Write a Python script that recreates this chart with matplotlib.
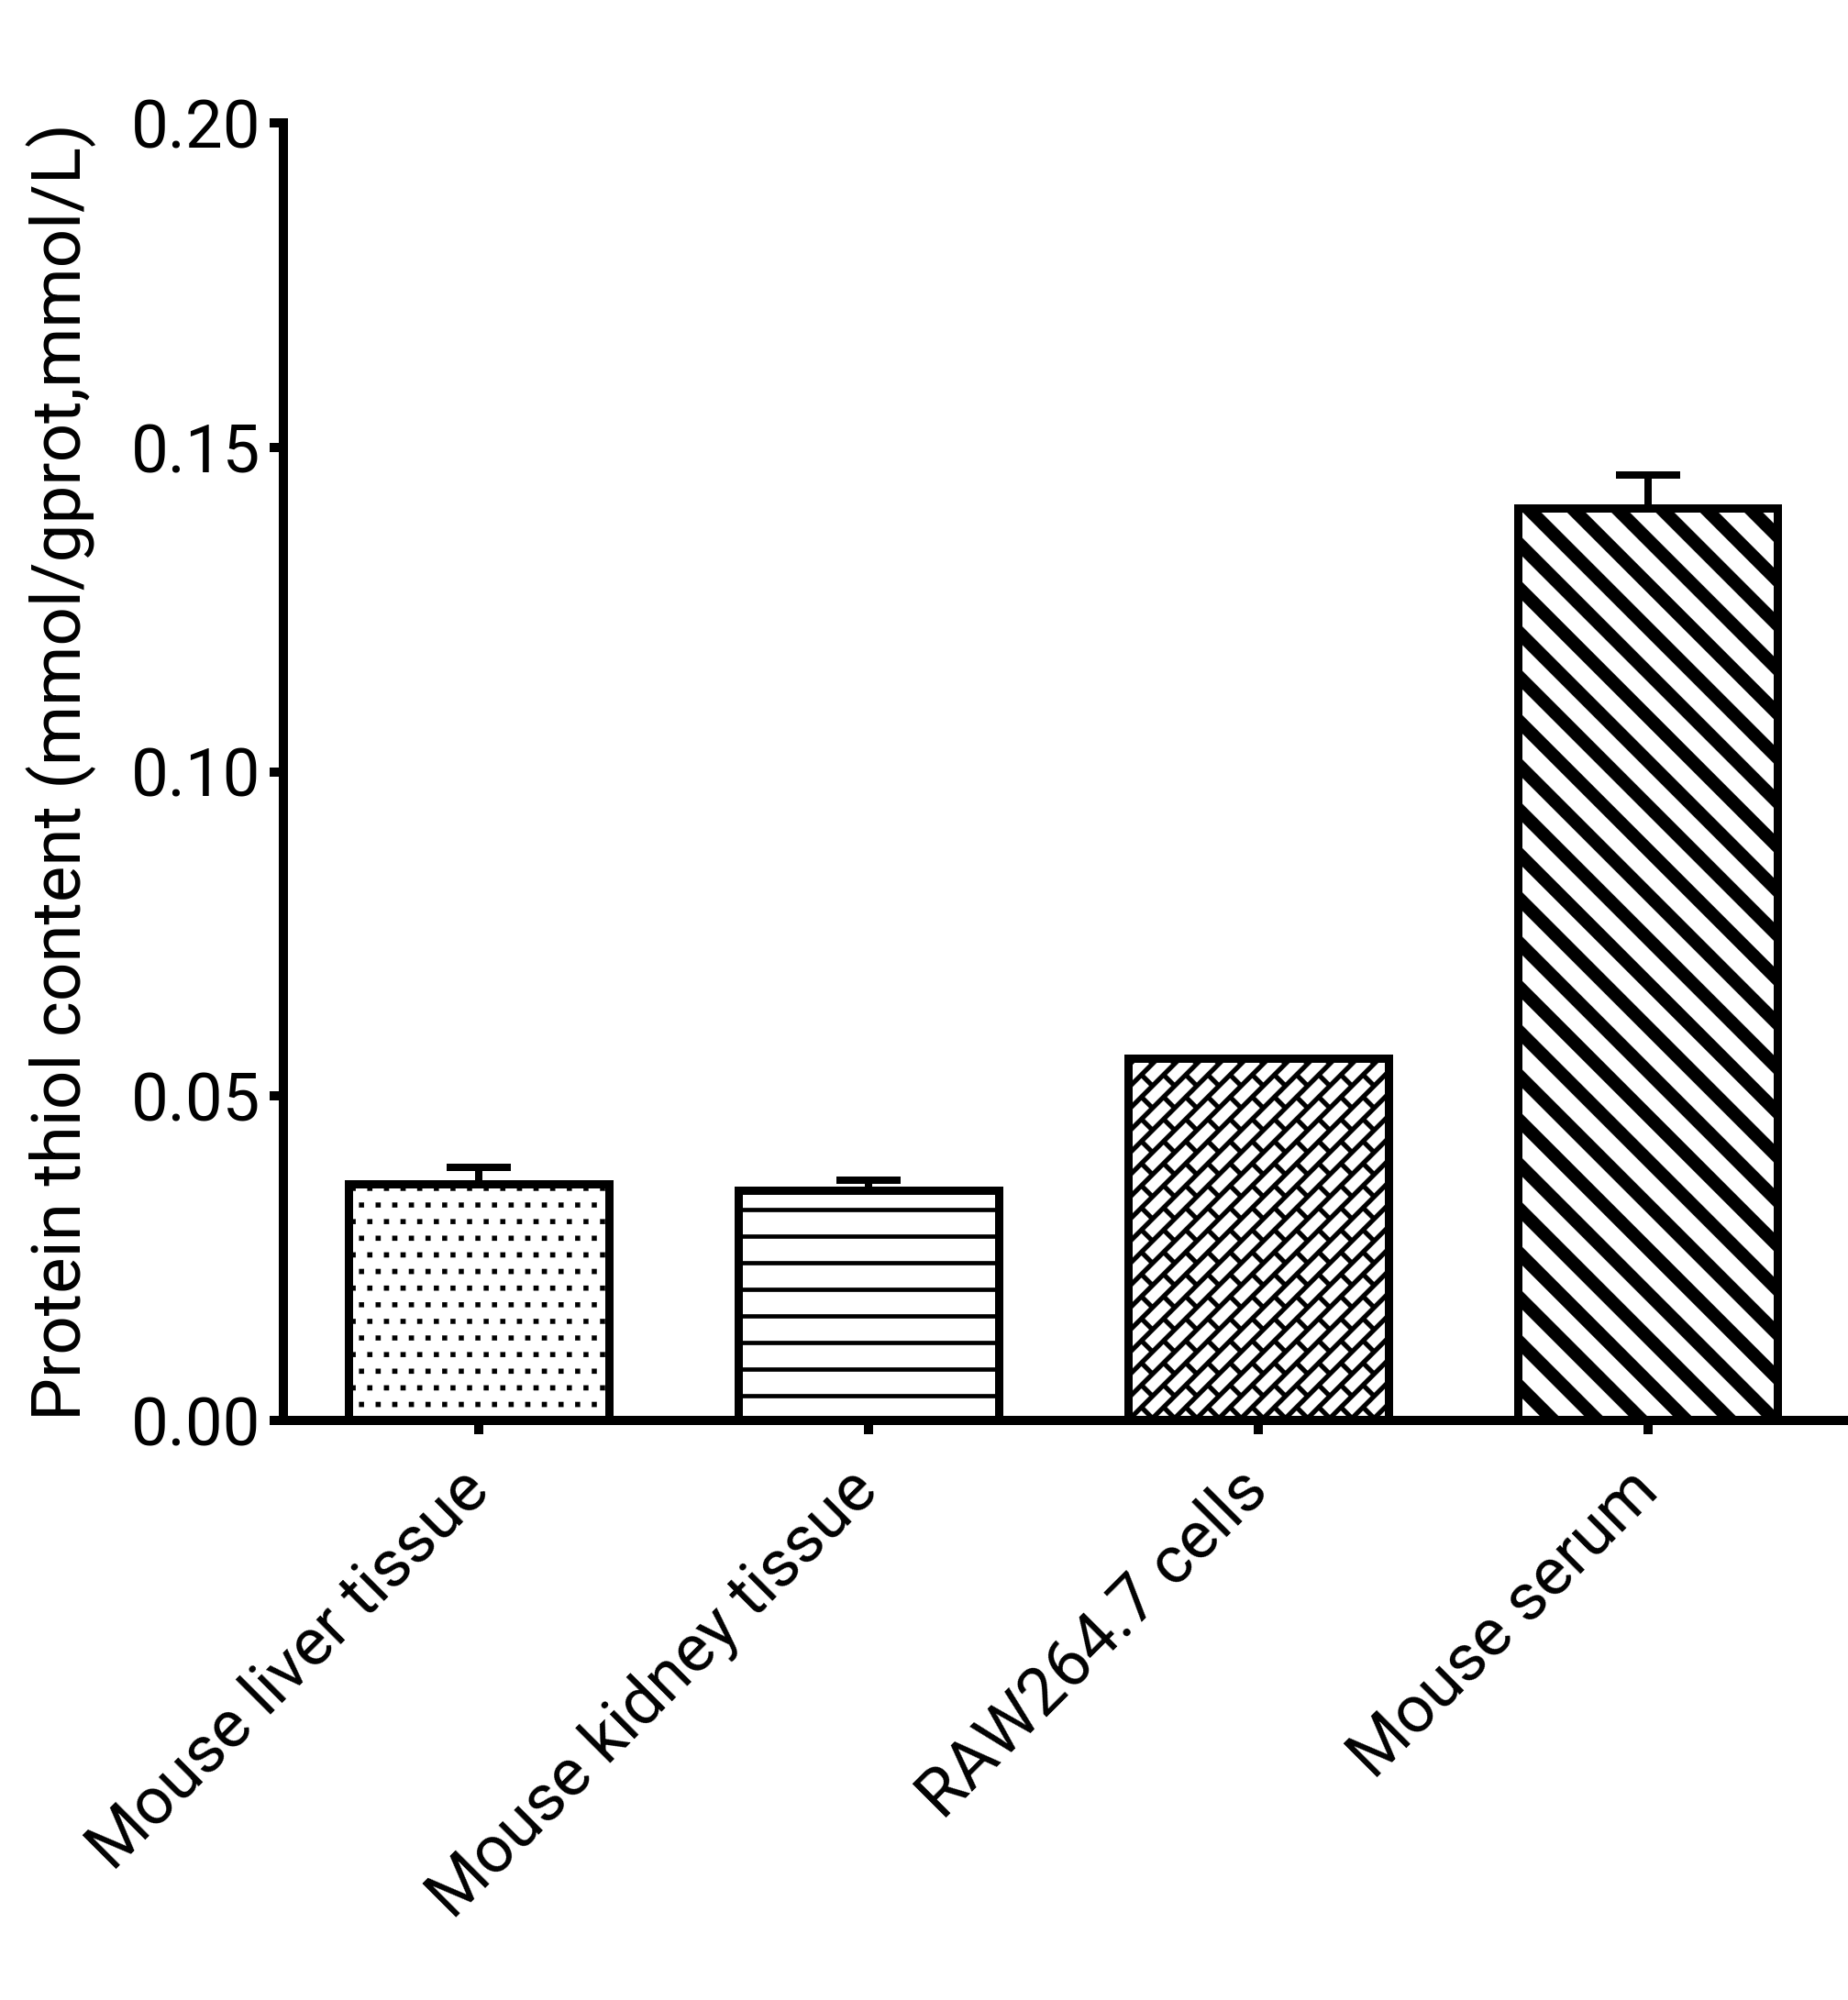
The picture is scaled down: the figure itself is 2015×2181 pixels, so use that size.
import warnings
import numpy as np
import matplotlib
matplotlib.use("Agg")
import matplotlib.pyplot as plt
import matplotlib.hatch as mhatch
from matplotlib.path import Path
from matplotlib.ticker import FormatStrFormatter

warnings.filterwarnings("ignore")

# ---------------- data ----------------
categories = ["Mouse liver tissue", "Mouse kidney tissue", "RAW264.7 cells", "Mouse serum"]
values = [0.0364, 0.0354, 0.0558, 0.1406]
errors = [0.0026, 0.0016, 0.0000, 0.0051]
yticks = [0.00, 0.05, 0.10, 0.15, 0.20]
ylabel = "Protein thiol content (mmol/gprot,mmol/L)"

# ---------------- styles ----------------
DPI = 145
PT = 72.0 / DPI  # points per pixel
hatches = ["a", "b", "c", "d"]

plt.rcParams["font.family"] = ["Roboto", "DejaVu Sans"]
plt.rcParams["hatch.linewidth"] = 0.1
plt.rcParams["hatch.color"] = "black"


# ---------------- custom hatch patterns (unit tile = 1 inch = DPI px) ----------------
def _ccw(pts):
    pts = np.asarray(pts, float)
    a = 0.5 * np.sum(pts[:, 0] * np.roll(pts[:, 1], -1) - np.roll(pts[:, 0], -1) * pts[:, 1])
    return pts if a >= 0 else pts[::-1]


def _sd(s, d):
    # (s = x+y, d = y-x) -> (x, y)
    return ((s - d) / 2.0, (s + d) / 2.0)


def _dots():
    polys = []
    n = 8
    h = 2.7 / DPI
    for j in range(-1, n + 1):
        y = (j + 0.5) / n
        for i in range(-1, n + 2):
            x = (i + 0.5 * (j % 2) + 0.25) / n
            polys.append(_ccw([(x - h, y - h), (x + h, y - h), (x + h, y + h), (x - h, y + h)]))
    return polys


def _hlines():
    polys = []
    n = 5
    t = 2.3 / DPI
    for j in range(-1, n + 1):
        y = (j + 0.5) / n
        polys.append(_ccw([(-0.2, y - t), (1.2, y - t), (1.2, y + t), (-0.2, y + t)]))
    return polys


def _stripes():
    polys = []
    h = 10.0 / DPI  # half horizontal width
    for k in range(-2, 9):
        c = k / 3.0
        polys.append(_ccw([(-1, c - h + 1), (2, c - h - 2), (2, c + h - 2), (-1, c + h + 1)]))
    return polys


def _bricks():
    polys = []
    k, m = 6, 3
    t = 2.5 / DPI
    e = t * np.sqrt(2)
    for j in range(-k - 2, k + 3):
        a = j / float(k)
        polys.append(_ccw([_sd(-1, a - e), _sd(3, a - e), _sd(3, a + e), _sd(-1, a + e)]))
        d0, d1 = a + e, a + 1.0 / k - e
        for i in range(-2, 2 * m + 3):
            p = (i + 0.5 * (j % 2)) / float(m)
            polys.append(_ccw([_sd(p - e, d0), _sd(p + e, d0), _sd(p + e, d1), _sd(p - e, d1)]))
    return polys


HATCH_POLYS = {"a": _dots(), "b": _hlines(), "c": _bricks(), "d": _stripes()}


class PolygonHatch(mhatch.HatchPatternBase):
    def __init__(self, hatch, density):
        self.polys = []
        for ch, polys in HATCH_POLYS.items():
            if ch in hatch:
                self.polys.extend(polys)
        self.num_vertices = sum(len(p) + 1 for p in self.polys)

    def set_vertices_and_codes(self, vertices, codes):
        cur = 0
        for p in self.polys:
            n = len(p)
            vertices[cur:cur + n] = p
            vertices[cur + n] = p[0]
            codes[cur] = Path.MOVETO
            codes[cur + 1:cur + n] = Path.LINETO
            codes[cur + n] = Path.CLOSEPOLY
            cur += n + 1


mhatch._hatch_types.append(PolygonHatch)

# ---------------- figure ----------------
W, H = 2015, 2181
fig = plt.figure(figsize=((W + 0.4) / DPI, (H + 0.4) / DPI), dpi=DPI, facecolor="white")
x0, x1 = 309, 2012
y0, y1 = 1549, 134.5
ax = fig.add_axes([x0 / W, 1 - y0 / H, (x1 - x0) / W, (y0 - y1) / H])

x = np.arange(len(categories))
bars = ax.bar(x, values, width=0.668, color="white", edgecolor="black",
              linewidth=9 * PT, zorder=2)
for patch, h in zip(bars, hatches):
    patch.set_hatch(h)

ax.errorbar(x, values, yerr=[np.zeros(len(values)), errors], fmt="none",
            ecolor="black", elinewidth=8 * PT, capsize=35 * PT, capthick=8 * PT,
            zorder=1.5)

ax.set_xlim(-0.5015, 3.508)
ax.set_ylim(0, 0.20)
ax.set_yticks(yticks)
ax.yaxis.set_major_formatter(FormatStrFormatter("%.2f"))

for s in ["top", "right"]:
    ax.spines[s].set_visible(False)
for s in ["left", "bottom"]:
    ax.spines[s].set_linewidth(10 * PT)
    ax.spines[s].set_capstyle("projecting")

fs = 36
ax.tick_params(axis="both", direction="out", length=15 * PT, width=10 * PT,
               labelsize=fs, color="black")
ax.tick_params(axis="y", pad=5)
ax.tick_params(axis="x", pad=25)
ax.set_xticks(x)
ax.set_xticklabels(categories, rotation=45, ha="right", va="center",
                   rotation_mode="anchor")

ax.set_ylabel(ylabel, fontsize=37, va="center")
ax.yaxis.set_label_coords((67 - x0) / (x1 - x0), 0.5)

fig.savefig("out.png", dpi=DPI, facecolor="white")
